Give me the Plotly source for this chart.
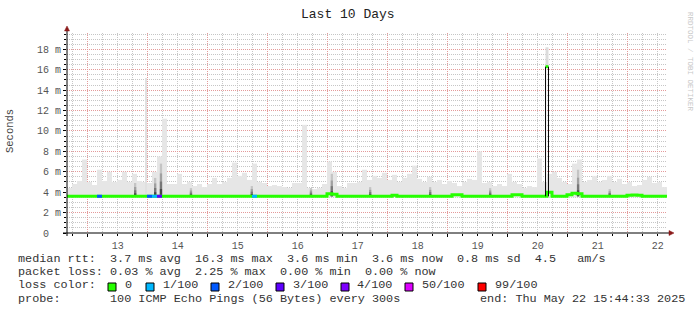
import plotly.graph_objects as go
from datetime import datetime, timedelta

# ---------------- data ----------------
start = datetime(2025, 5, 12, 15, 44, 33)
end = datetime(2025, 5, 22, 15, 44, 33)
bin_hours = 2

# smoke top (ms) per 2-hour bin
smoke_max = [
    4.4, 4.8, 5.1, 7.2, 5.0, 4.7, 6.2, 5.1, 6.0, 5.0, 5.2, 6.0,
    5.0, 5.8, 5.1, 5.0, 4.9, 6.0, 7.5, 11.2, 4.8, 4.8, 5.8, 4.8,
    5.0, 4.6, 4.8, 4.5, 4.8, 5.4, 4.8, 5.0, 5.4, 6.9, 5.6, 5.9,
    5.2, 6.8, 5.0, 4.9, 4.6, 4.7, 4.6, 4.5, 4.4, 4.9, 4.9, 10.6,
    4.4, 4.3, 4.4, 4.8, 7.0, 6.0, 4.6, 4.4, 4.9, 4.9, 5.0, 6.2,
    5.2, 5.6, 5.4, 5.9, 5.2, 5.7, 5.0, 5.4, 5.8, 6.6, 5.3, 5.0,
    5.5, 5.0, 5.2, 4.8, 5.1, 4.9, 4.6, 5.0, 5.3, 5.2, 8.0, 4.9,
    5.0, 4.6, 4.8, 4.6, 5.8, 5.0, 4.8, 4.4, 4.6, 4.5, 7.3, 5.0,
    5.8, 6.0, 5.4, 5.0, 4.8, 6.8, 7.2, 5.0, 5.2, 5.6, 5.0, 5.2,
    5.6, 5.0, 5.3, 4.8, 5.0, 4.6, 4.7, 5.2, 5.5, 4.9, 5.0, 4.5,
]
smoke_base = 3.5

# median rtt (ms) per 2-hour bin
median = [3.6] * 120
for i, v in {52: 3.85, 53: 3.8, 65: 3.7, 77: 3.75, 78: 3.75, 89: 3.75, 90: 3.75,
             96: 4.0, 100: 3.75, 101: 3.9, 102: 3.85, 112: 3.7, 113: 3.72, 114: 3.7}.items():
    median[i] = v

# packet loss (of 100) per 2-hour bin
loss = [0] * 120
for i, v in {6: 2, 16: 2, 17: 1, 18: 3, 37: 1}.items():
    loss[i] = v

# dark smoke (dense pings) events
dark_times = ["2025-05-13 19:00", "2025-05-14 03:00", "2025-05-14 05:20",
              "2025-05-14 17:20", "2025-05-15 17:40", "2025-05-16 17:20",
              "2025-05-17 01:40", "2025-05-17 17:00", "2025-05-18 17:00",
              "2025-05-19 17:00", "2025-05-21 04:10", "2025-05-21 16:50"]
dark_tops = [4.9, 5.4, 6.8, 4.4, 4.6, 4.4, 5.8, 4.5, 4.5, 4.4, 6.2, 4.3]

# thin outlier
outlier_times = ["2025-05-13 23:20"]
outlier_tops = [15.2]

# median spike
spike_start = "2025-05-20 15:10"
spike_end = "2025-05-20 16:20"
spike_median = 16.3
spike_top = 18.2

ytick_vals = [0, 2, 4, 6, 8, 10, 12, 14, 16, 18]
ytick_text = ["0\u2007\u2007", "2 m", "4 m", "6 m", "8 m", "10 m", "12 m", "14 m", "16 m", "18 m"]

loss_colors = {0: "#26ff00", 1: "#00b8ff", 2: "#0059ff", 3: "#5e00ff",
               4: "#7e00ff", 50: "#dd00ff", 99: "#ff0000"}
loss_labels = ["0", "1/100", "2/100", "3/100", "4/100", "50/100", "99/100"]
loss_keys = [0, 1, 2, 3, 4, 50, 99]

# ---------------- figure ----------------
W, H = 697, 315
L, R, T, B = 67, 30, 33, 82
PW, PH = W - L - R, H - T - B
MONO = "Liberation Mono"

def px(x):
    return (x - L) / PW

def py(y):
    return (H - B - y) / PH

fig = go.Figure()
bins = [start + timedelta(hours=bin_hours * i) for i in range(len(smoke_max))]
centers = [b + timedelta(hours=bin_hours / 2) for b in bins]
bw = bin_hours * 3600 * 1000

fig.add_trace(go.Bar(x=centers, y=[m - smoke_base for m in smoke_max], base=smoke_base,
                     width=[bw] * len(centers), marker=dict(color="#e6e6e6", line=dict(width=0)),
                     hoverinfo="skip"))
fig.add_trace(go.Bar(x=outlier_times, y=[t - smoke_base for t in outlier_tops], base=smoke_base,
                     width=[0.4 * 3600 * 1000] * len(outlier_times),
                     marker=dict(color="#e0e0e0", line=dict(width=0)), hoverinfo="skip"))
# dark smoke: graded shades
dw = [0.9 * 3600 * 1000] * len(dark_times)
for frac, col in [(1.0, "#c4c4c4"), (0.7, "#a0a0a0"), (0.45, "#777777"), (0.22, "#444444")]:
    fig.add_trace(go.Bar(x=dark_times, y=[(t - 3.6) * frac for t in dark_tops], base=3.6, width=dw,
                         marker=dict(color=col, line=dict(width=0)), hoverinfo="skip"))
# spike smoke
s0 = datetime.fromisoformat(spike_start)
s1 = datetime.fromisoformat(spike_end)
fig.add_trace(go.Bar(x=[s0 + (s1 - s0) / 2], y=[spike_top - spike_median], base=spike_median,
                     width=[(s1 - s0).total_seconds() * 1000],
                     marker=dict(color="#dcdcdc", line=dict(width=0)), hoverinfo="skip"))

# median line
xs = bins + [end]
ys = median + [median[-1]]
fig.add_trace(go.Scatter(x=xs, y=ys, mode="lines", line=dict(color=loss_colors[0], width=3, shape="hv"),
                         hoverinfo="skip"))
for i, l in enumerate(loss):
    if l > 0:
        fig.add_trace(go.Scatter(x=[bins[i], bins[i] + timedelta(hours=bin_hours)], y=[median[i], median[i]],
                                 mode="lines", line=dict(color=loss_colors[l], width=3), hoverinfo="skip"))
# spike outline
fig.add_trace(go.Scatter(x=[s0, s1], y=[spike_median, spike_median], mode="lines",
                         line=dict(color=loss_colors[0], width=3), hoverinfo="skip"))
fig.add_trace(go.Scatter(x=[s0, s0, None, s1, s1], y=[3.6, spike_median, None, spike_median, 3.6],
                         mode="lines", line=dict(color="#000000", width=1), hoverinfo="skip"))

grid_minor = "#c6c6c6"
grid_major = "#e49a9a"

fig.update_layout(
    width=W, height=H, margin=dict(l=L, r=R, t=T, b=B),
    paper_bgcolor="white", plot_bgcolor="white",
    showlegend=False, barmode="overlay",
    xaxis=dict(type="date", range=[start, end], showgrid=True, gridcolor=grid_major, griddash="1px,1px",
               gridwidth=1, tick0="2025-05-13", dtick=86400000, ticklabelmode="period", tickformat="%d",
               ticks="outside", ticklen=3, tickcolor="#000", zeroline=False, showline=False,
               tickfont=dict(family=MONO, size=10, color="#555"),
               minor=dict(tick0="2025-05-13", dtick=6 * 3600000, showgrid=True, gridcolor=grid_minor,
                          griddash="1px,1px", ticks="outside", ticklen=2, tickcolor="#000"),
               fixedrange=True),
    yaxis=dict(range=[0, 19.6], tickmode="array", tickvals=ytick_vals, ticktext=ytick_text,
               showgrid=True, gridcolor=grid_major, griddash="1px,1px", gridwidth=1,
               ticks="outside", ticklen=3, tickcolor="#000", zeroline=False, showline=False,
               tickfont=dict(family=MONO, size=10, color="#555"),
               minor=dict(tick0=0, dtick=0.5, showgrid=True, gridcolor=grid_minor, griddash="1px,1px",
                          ticks="outside", ticklen=2, tickcolor="#000"),
               fixedrange=True),
)

shapes = []
# axis lines
shapes.append(dict(type="line", xref="paper", yref="paper", x0=px(63), x1=px(669), y0=0, y1=0,
                   line=dict(color="#000", width=1)))
shapes.append(dict(type="line", xref="paper", yref="paper", x0=0, x1=0, y0=py(236), y1=py(31),
                   line=dict(color="#000", width=1)))
# arrows
shapes.append(dict(type="path", xref="paper", yref="paper",
                   path=f"M {px(669)} {py(230.5)} L {px(674)} {py(233)} L {px(669)} {py(235.5)} Z",
                   fillcolor="#8b1a1a", line=dict(color="#8b1a1a", width=0.5)))
shapes.append(dict(type="path", xref="paper", yref="paper",
                   path=f"M {px(64.5)} {py(31)} L {px(67)} {py(26)} L {px(69.5)} {py(31)} Z",
                   fillcolor="#8b1a1a", line=dict(color="#8b1a1a", width=0.5)))
# legend colour boxes
box_x = [108, 146, 211, 276, 341, 405, 478]
for k, bx in zip(loss_keys, box_x):
    shapes.append(dict(type="rect", xref="paper", yref="paper", x0=px(bx), x1=px(bx + 8),
                       y0=py(291), y1=py(283), fillcolor=loss_colors[k], line=dict(color="#000", width=1)))
fig.update_layout(shapes=shapes)

NB = "\u00a0"
def t(s):
    return s.replace(" ", NB)

ann = []
def add_text(s, x, y, size=11.8, color="#333", xanchor="left", angle=0, yanchor="middle"):
    ann.append(dict(text=t(s), x=px(x), y=py(y), xref="paper", yref="paper", showarrow=False,
                    xanchor=xanchor, yanchor=yanchor, textangle=angle,
                    font=dict(family=MONO, size=size, color=color)))

add_text("Last 10 Days", 348, 14, size=13, color="#222", xanchor="center")
add_text("Seconds", 10, 131, size=10.5, color="#444", xanchor="center", angle=-90)
add_text("RRDTOOL / TOBI OETIKER", 690, 62, size=7.5, color="#c8c8c8", xanchor="center", angle=90)

add_text("median rtt:  3.7 ms avg  16.3 ms max  3.6 ms min  3.6 ms now  0.8 ms sd  4.5   am/s", 16, 258.5)
add_text("packet loss: 0.03 % avg  2.25 % max  0.00 % min  0.00 % now", 16, 271.5)
add_text("loss color:", 16, 285)
label_x = [123, 160.5, 226, 291, 355, 420, 493]
for lab, lx in zip(loss_labels, label_x):
    add_text(lab, lx, 285)
add_text("probe:       100 ICMP Echo Pings (56 Bytes) every 300s", 16, 298.5)
add_text("end: Thu May 22 15:44:33 2025", 478, 298.5)
fig.update_layout(annotations=ann)

fig.write_html("out.html")
